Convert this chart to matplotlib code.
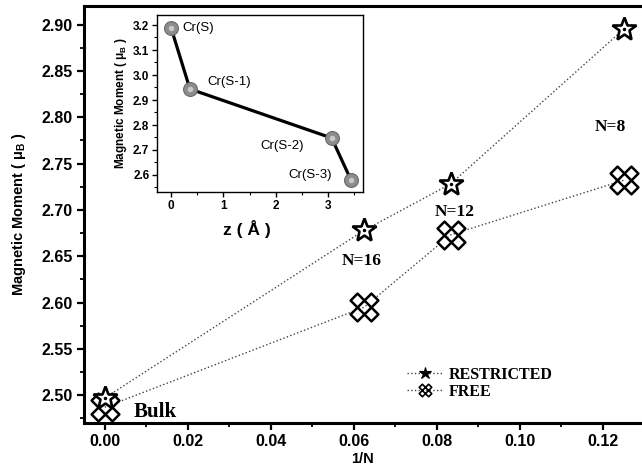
import matplotlib
matplotlib.use("Agg")
import matplotlib.pyplot as plt
from matplotlib.path import Path
from matplotlib.ticker import MultipleLocator, FormatStrFormatter
import numpy as np

# ---------------- data ----------------
inv_N = [0.0, 0.0625, 0.0833, 0.125]
restricted = [2.497, 2.678, 2.728, 2.895]
free = [2.487, 2.595, 2.673, 2.732]
n_labels = ["N=16", "N=12", "N=8"]
n_label_x = [0.0619, 0.0844, 0.1217]
n_label_y = [2.645, 2.698, 2.789]

inset_z = [0.0, 0.36, 3.07, 3.44]
inset_mm = [3.188, 2.944, 2.748, 2.58]
inset_names = ["Cr(S)", "Cr(S-1)", "Cr(S-2)", "Cr(S-3)"]
inset_name_x = [0.21, 0.69, 1.70, 2.24]
inset_name_y = [3.19, 2.972, 2.716, 2.60]

SANS = "Liberation Sans"
SERIF = "Liberation Serif"

# custom "crossed diamonds" marker: four diamonds in a 2x2 lattice
verts, codes = [], []
for cx, cy in [(-0.5, 0.5), (0.5, 0.5), (-0.5, -0.5), (0.5, -0.5)]:
    pts = [(cx, cy + 0.5), (cx + 0.5, cy), (cx, cy - 0.5), (cx - 0.5, cy), (cx, cy + 0.5)]
    verts += pts
    codes += [Path.MOVETO, Path.LINETO, Path.LINETO, Path.LINETO, Path.CLOSEPOLY]
lattice = Path(verts, codes)

fig = plt.figure(figsize=(6.42, 4.74), dpi=100)
ax = fig.add_axes([84 / 642, 51 / 474, 1 - 84 / 642, 417 / 474])

ax.plot(inv_N, restricted, linestyle=":", color="#444444", lw=1.0, zorder=1)
ax.plot(inv_N, free, linestyle=":", color="#444444", lw=1.0, zorder=1)
ax.plot(inv_N, free, linestyle="none", marker=lattice, ms=20, mew=1.8,
        mfc="white", mec="black", zorder=3)
ax.plot(inv_N, restricted, linestyle="none", marker="*", ms=18, mew=1.9,
        mfc="white", mec="black", zorder=4)
ax.plot(inv_N, restricted, linestyle="none", marker=".", ms=3, color="black", zorder=5)

# legend (proxy handles)
h1, = ax.plot([], [], linestyle=":", color="#444444", lw=1.0, marker="*", ms=9,
              mfc="black", mec="black", mew=0.8)
h2, = ax.plot([], [], linestyle=":", color="#444444", lw=1.0, marker=lattice, ms=9,
              mfc="white", mec="black", mew=1.2)
leg = fig.legend([h1, h2], ["RESTRICTED", "FREE"], loc="upper left",
                 bbox_to_anchor=(407 / 642, 1 - 367 / 474), frameon=False,
                 borderpad=0, borderaxespad=0, handlelength=2.2, handletextpad=0.4,
                 labelspacing=0.05, prop={"family": SERIF, "weight": "bold", "size": 11.5})

for t, x, y in zip(n_labels, n_label_x, n_label_y):
    ax.text(x, y, t, ha="center", va="center", family=SERIF, weight="bold", fontsize=12.5)
ax.text(0.0070, 2.4816, "Bulk", ha="left", va="center", family=SERIF, weight="bold", fontsize=15)

ax.set_xlim(-0.005, 0.1294)
ax.set_ylim(2.47, 2.92)
ax.xaxis.set_major_locator(MultipleLocator(0.02))
ax.xaxis.set_minor_locator(MultipleLocator(0.01))
ax.yaxis.set_major_locator(MultipleLocator(0.05))
ax.yaxis.set_minor_locator(MultipleLocator(0.025))
ax.xaxis.set_major_formatter(FormatStrFormatter("%.2f"))
ax.yaxis.set_major_formatter(FormatStrFormatter("%.2f"))
ax.tick_params(which="major", direction="out", length=5, width=1.6, labelsize=11.5, pad=3)
ax.tick_params(which="minor", direction="out", length=3, width=1.3)
for lab in ax.get_xticklabels() + ax.get_yticklabels():
    lab.set_family(SANS)
    lab.set_weight("bold")
for s in ["left", "bottom", "top"]:
    ax.spines[s].set_linewidth(2.2)
ax.spines["right"].set_visible(False)

ax.set_xlabel("1/N", family=SANS, weight="bold", fontsize=10.5, labelpad=2)
ax.set_ylabel("Magnetic Moment ( μ$_\\mathregular{B}$ )", family=SANS, weight="bold",
              fontsize=10.5, labelpad=10)

# ---------------- inset ----------------
ins = fig.add_axes([157 / 642, 1 - 192 / 474, 206 / 642, 177 / 474])
ins.plot(inset_z, inset_mm, color="black", lw=2.3, zorder=2)
ins.plot(inset_z, inset_mm, linestyle="none", marker="o", ms=10, mfc="#8c8c8c",
         mec="#6a6a6a", mew=0.8, zorder=3)
ins.plot(inset_z, inset_mm, linestyle="none", marker="o", ms=4, mfc="#c8c8c8",
         mec="none", zorder=4)
for t, x, y in zip(inset_names, inset_name_x, inset_name_y):
    ins.text(x, y, t, ha="left", va="center", family=SANS, fontsize=9.5)

ins.set_xlim(-0.27, 3.67)
ins.set_ylim(2.532, 3.24)
ins.xaxis.set_major_locator(MultipleLocator(1))
ins.xaxis.set_minor_locator(MultipleLocator(0.5))
ins.yaxis.set_major_locator(MultipleLocator(0.1))
ins.yaxis.set_minor_locator(MultipleLocator(0.05))
ins.yaxis.set_major_formatter(FormatStrFormatter("%.1f"))
ins.tick_params(which="major", direction="out", length=3.5, width=1.0, labelsize=8.5, pad=2)
ins.tick_params(which="minor", direction="out", length=2, width=0.8)
for lab in ins.get_xticklabels() + ins.get_yticklabels():
    lab.set_family(SANS)
    lab.set_weight("bold")
for s in ins.spines.values():
    s.set_linewidth(1.0)
ins.set_xlabel("z ( Å )", family=SANS, weight="bold", fontsize=12.5)
ins.xaxis.set_label_coords(0.437, -0.16)
ins.set_ylabel("Magnetic Moment ( μ$_\\mathregular{B}$ )", family=SANS, weight="bold",
               fontsize=8.5, labelpad=3)

fig.savefig("out.png", dpi=100)
